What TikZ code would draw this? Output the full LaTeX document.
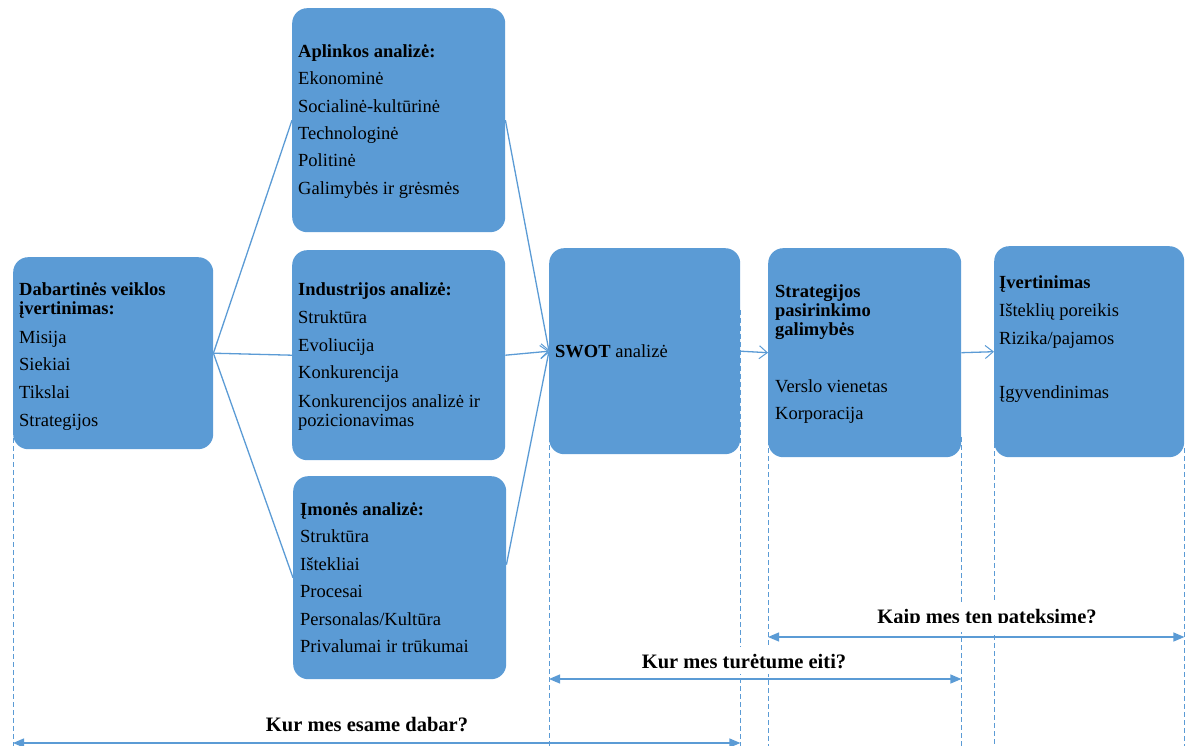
\documentclass[tikz,border=0pt]{standalone}
\usepackage{fontspec}
\setmainfont{Liberation Serif}
\usetikzlibrary{arrows.meta}
\definecolor{bx}{HTML}{5B9BD5}
\begin{document}
\begin{tikzpicture}[x=1pt,y=-1pt,
  box/.style={draw=none, fill=bx, rounded corners=15pt, anchor=north west, inner sep=0pt},
  ln/.style={anchor=base west, inner sep=0pt, font=\fontsize{18.5}{20}\selectfont},
  hd/.style={anchor=base west, inner sep=0pt, font=\fontsize{18.5}{20}\selectfont\bfseries},
  con/.style={draw=bx, line width=1.3pt},
  arr/.style={draw=bx, line width=1.3pt, -{Straight Barb[length=8pt,width=13pt,line width=1pt]}},
  dsh/.style={draw=bx, line width=0.9pt, dash pattern=on 5pt off 3pt},
  dbl/.style={draw=bx, line width=1.2pt, {Triangle[length=11pt,width=9pt]}-{Triangle[length=11pt,width=9pt]}},
  lab/.style={anchor=base, fill=white, inner xsep=4pt, inner ysep=1pt, font=\fontsize{20.5}{22}\selectfont\bfseries}
]
\useasboundingbox (0,0) rectangle (1188,746);
\coordinate (bot) at (0,746);

% boxes
\node[box, minimum width=200pt, minimum height=192pt] (b1) at (13,257) {};
\node[box, minimum width=213pt, minimum height=224pt] (apl) at (292,8) {};
\node[box, minimum width=213pt, minimum height=210pt] (ind) at (292,250) {};
\node[box, minimum width=213pt, minimum height=203pt] (imo) at (293,476) {};
\node[box, minimum width=191pt, minimum height=206pt] (swot) at (549,248) {};
\node[box, minimum width=193pt, minimum height=209pt] (str) at (768,248) {};
\node[box, minimum width=190pt, minimum height=211pt] (ivr) at (994,246) {};

% texts: current state
\node[hd] (t11) at (19,295) {Dabartinės veiklos};
\node[hd] (t12) at (19,314) {įvertinimas:};
\node[ln] (t13) at (19,343) {Misija};
\node[ln] (t14) at (19,370) {Siekiai};
\node[ln] (t15) at (19,398) {Tikslai};
\node[ln] (t16) at (19,426) {Strategijos};

% environment
\node[hd] (t21) at (298,58) {Aplinkos analizė:};
\node[ln] (t22) at (298,85) {Ekonominė};
\node[ln] (t23) at (298,113) {Socialinė-kultūrinė};
\node[ln] (t24) at (298,140) {Technologinė};
\node[ln] (t25) at (298,167) {Politinė};
\node[ln] (t26) at (298,194) {Galimybės ir grėsmės};

% industry
\node[hd] (t31) at (298,295) {Industrijos analizė:};
\node[ln] (t32) at (298,323) {Struktūra};
\node[ln] (t33) at (298,351) {Evoliucija};
\node[ln] (t34) at (298,378) {Konkurencija};
\node[ln] (t35) at (298,407) {Konkurencijos analizė ir};
\node[ln] (t36) at (298,426) {pozicionavimas};

% company
\node[hd] (t41) at (300,515) {Įmonės analizė:};
\node[ln] (t42) at (300,542) {Struktūra};
\node[ln] (t43) at (300,570) {Ištekliai};
\node[ln] (t44) at (300,597) {Procesai};
\node[ln] (t45) at (300,625) {Personalas/Kultūra};
\node[ln] (t46) at (300,652) {Privalumai ir trūkumai};

% swot
\node[ln] (t51) at (555,357) {\textbf{SWOT} analizė};

% strategy options
\node[hd] (t61) at (775,297) {Strategijos};
\node[hd] (t62) at (775,316) {pasirinkimo};
\node[hd] (t63) at (775,335) {galimybės};
\node[ln] (t64) at (775,392) {Verslo vienetas};
\node[ln] (t65) at (775,419) {Korporacija};

% evaluation
\node[hd] (t71) at (999,288) {Įvertinimas};
\node[ln] (t72) at (999,316) {Išteklių poreikis};
\node[ln] (t73) at (999,344) {Rizika/pajamos};
\node[ln] (t74) at (999,398) {Įgyvendinimas};

% connectors
\draw[con] (b1.east) -- (apl.west);
\draw[con] (b1.east) -- (ind.west);
\draw[con] (b1.east) -- (imo.west);
\draw[arr] (apl.east) -- (swot.west);
\draw[arr] (ind.east) -- (swot.west);
\draw[arr] ([yshift=13pt]imo.east) -- (swot.west);
\draw[arr] (swot.east) -- (str.west);
\draw[arr] (str.east) -- (ivr.west);

% dashed guides
\draw[dsh] ([yshift=19pt]b1.south west) -- (b1.south west |- bot);
\draw[dsh] ([yshift=57pt]swot.south west) -- (swot.south west |- bot);
\draw[dsh] ([yshift=144pt]swot.south east) -- (swot.south east |- bot);
\draw[dsh] ([yshift=17pt]str.south west) -- (str.south west |- bot);
\draw[dsh] ([yshift=20pt]str.south east) -- (str.south east |- bot);
\draw[dsh] ([yshift=14pt]ivr.south west) -- (ivr.south west |- bot);
\draw[dsh] ([yshift=9pt]ivr.south east) -- (ivr.south east |- bot);

% labels
\node[lab] (l1) at (367,731) {Kur mes esame dabar?};
\node[lab, text height=15pt, text depth=0pt, inner ysep=6pt] (l2) at (744,668) {Kur mes turėtume eiti?};
\node[lab, text height=20pt, text depth=0pt, inner ysep=0pt] (l3) at (987,623) {Kaip mes ten pateksime?};
\fill[white] (l3.south west) rectangle ([yshift=-9pt]l3.south east);

% span arrows
\coordinate (y1) at (0,743);
\coordinate (y2) at (0,679);
\coordinate (y3) at (0,637);
\draw[dbl] (b1.west |- y1) -- (swot.east |- y1);
\draw[dbl] (swot.west |- y2) -- (str.east |- y2);
\draw[dbl] (str.west |- y3) -- (ivr.east |- y3);
\end{tikzpicture}
\end{document}
